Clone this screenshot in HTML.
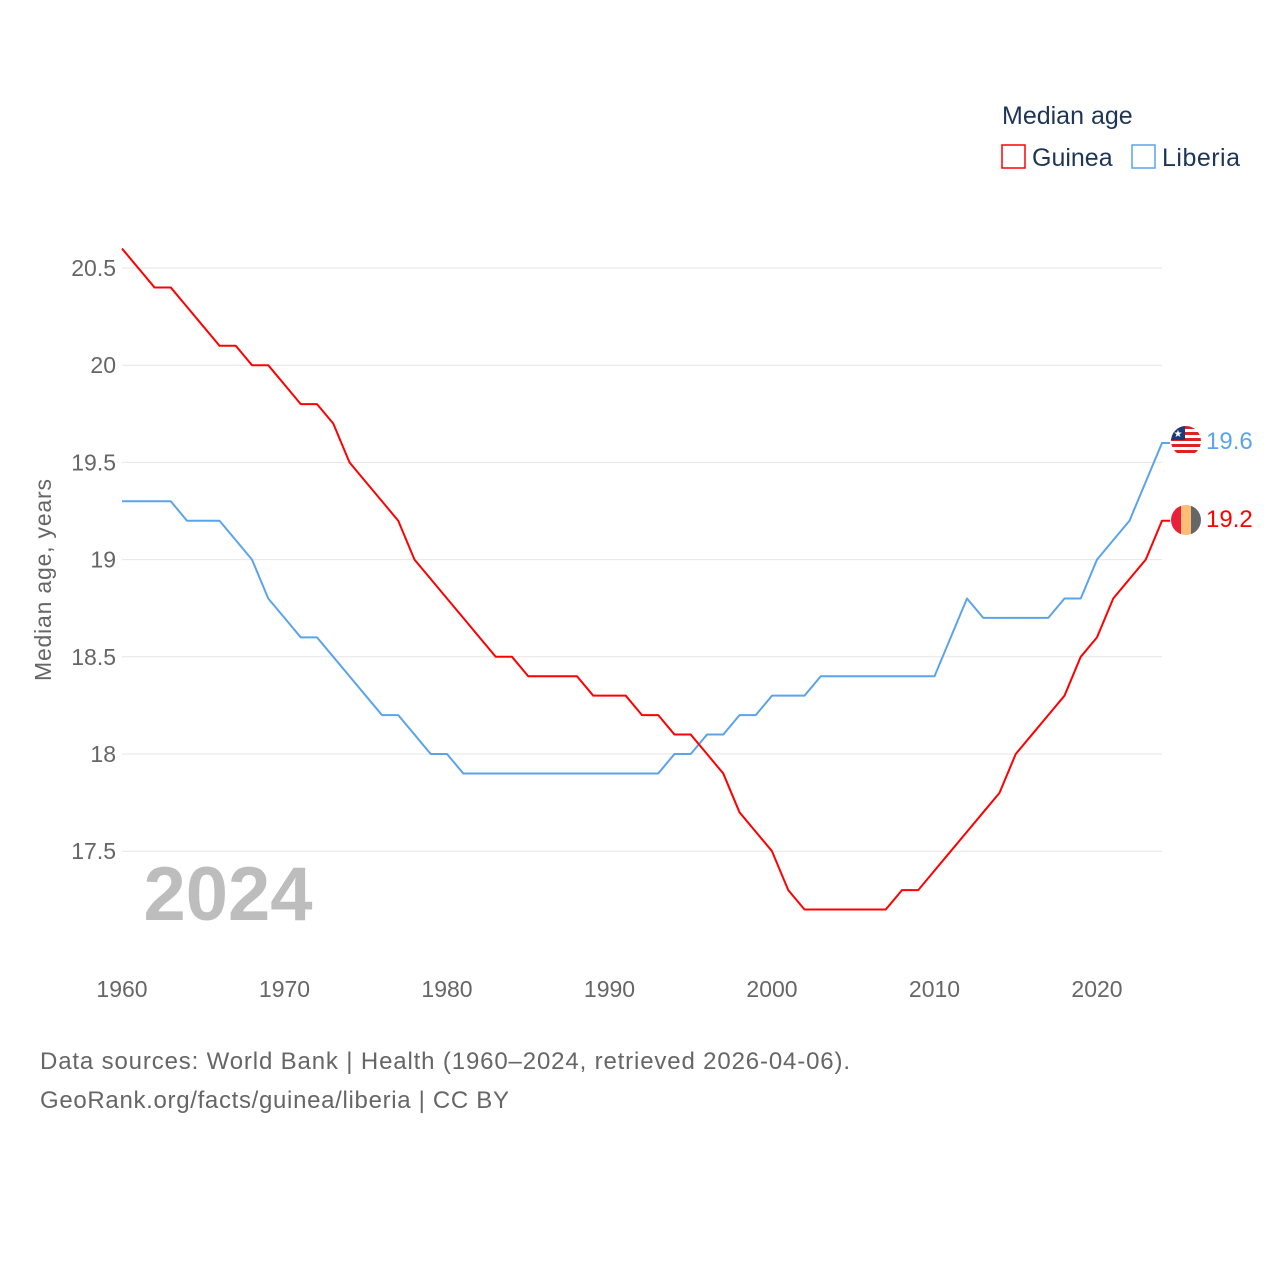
<!DOCTYPE html>
<html><head><meta charset="utf-8">
<style>
body{margin:0;background:#fff;font-family:"Liberation Sans",sans-serif;}
svg{display:block}
</style></head>
<body>
<svg id="chart" width="1280" height="1280" viewBox="0 0 1280 1280">
<rect width="1280" height="1280" fill="#fff"/>
<g id="grid"></g>
<g id="yticks"></g>
<g id="xticks"></g>
<text x="228" y="920" text-anchor="middle" font-size="76" font-weight="bold" fill="#bdbdbd">2024</text>
<text transform="translate(51,580) rotate(-90)" text-anchor="middle" font-size="23" fill="#666" textLength="202">Median age, years</text>
<g id="series"></g>
<g>
<text x="1002" y="124" font-size="25" fill="#1d3557">Median age</text>
<g><rect x="1002" y="145" width="23" height="23" fill="none" stroke="#f00" stroke-width="1.5"/><text x="1032" y="166" font-size="25" fill="#1d3557">Guinea</text></g>
<g><rect x="1132" y="145" width="23" height="23" fill="none" stroke="#5ba4ec" stroke-width="1.5"/><text x="1162" y="166" font-size="25" fill="#1d3557" textLength="78">Liberia</text></g>
</g>
<defs>
<clipPath id="c1"><circle cx="1186" cy="441" r="15"/></clipPath>
<clipPath id="c2"><circle cx="1186" cy="520" r="15"/></clipPath>
</defs>
<g clip-path="url(#c1)">
<rect x="1171" y="426" width="30" height="30" fill="#fff"/>
<rect x="1171" y="426" width="30" height="3" fill="#d22"/><rect x="1171" y="432" width="30" height="3" fill="#d22"/><rect x="1171" y="438" width="30" height="3" fill="#d22"/><rect x="1171" y="444" width="30" height="3" fill="#d22"/><rect x="1171" y="450" width="30" height="3" fill="#d22"/>
<rect x="1171" y="426" width="14" height="14" fill="#1a3a7a"/><text x="1178" y="437" font-size="10" fill="#fff" text-anchor="middle">★</text>
</g>
<g clip-path="url(#c2)">
<rect x="1171" y="505" width="10" height="30" fill="#e8203a"/><rect x="1181" y="505" width="10" height="30" fill="#fcbe77"/><rect x="1191" y="505" width="10" height="30" fill="#666"/>
</g>
<text x="1206" y="449" font-size="24" fill="#5ba4ec">19.6</text>
<text x="1206" y="527" font-size="24" fill="#f00">19.2</text>
<text x="40" y="1069" font-size="24" fill="#666" textLength="810">Data sources: World Bank | Health (1960–2024, retrieved 2026-04-06).</text>
<text x="40" y="1108" font-size="24" fill="#666" textLength="469">GeoRank.org/facts/guinea/liberia | CC BY</text>
</svg>
<script>
const years=[];for(let y=1960;y<=2024;y++)years.push(y);
const guinea=[20.6,20.5,20.4,20.4,20.3,20.2,20.1,20.1,20.0,20.0,19.9,19.8,19.8,19.7,19.5,19.4,19.3,19.2,19.0,18.9,18.8,18.7,18.6,18.5,18.5,18.4,18.4,18.4,18.4,18.3,18.3,18.3,18.2,18.2,18.1,18.1,18.0,17.9,17.7,17.6,17.5,17.3,17.2,17.2,17.2,17.2,17.2,17.2,17.3,17.3,17.4,17.5,17.6,17.7,17.8,18.0,18.1,18.2,18.3,18.5,18.6,18.8,18.9,19.0,19.2];
const liberia=[19.3,19.3,19.3,19.3,19.2,19.2,19.2,19.1,19.0,18.8,18.7,18.6,18.6,18.5,18.4,18.3,18.2,18.2,18.1,18.0,18.0,17.9,17.9,17.9,17.9,17.9,17.9,17.9,17.9,17.9,17.9,17.9,17.9,17.9,18.0,18.0,18.1,18.1,18.2,18.2,18.3,18.3,18.3,18.4,18.4,18.4,18.4,18.4,18.4,18.4,18.4,18.6,18.8,18.7,18.7,18.7,18.7,18.7,18.8,18.8,19.0,19.1,19.2,19.4,19.6];
const yTicks=[17.5,18,18.5,19,19.5,20,20.5];
const yTickLabels=["17.5","18","18.5","19","19.5","20","20.5"];
const xTicks=[1960,1970,1980,1990,2000,2010,2020];
const NS="http://www.w3.org/2000/svg";
const X=y=>122+(y-1960)*16.25;
const Y=v=>754-(v-18)*194.4;
const grid=document.getElementById('grid'),yt=document.getElementById('yticks'),xt=document.getElementById('xticks'),ser=document.getElementById('series');
yTicks.forEach((v,i)=>{
 const l=document.createElementNS(NS,'line');
 l.setAttribute('x1',122);l.setAttribute('x2',1162);l.setAttribute('y1',Y(v));l.setAttribute('y2',Y(v));
 l.setAttribute('stroke','#e6e6e6');
 
 
 grid.appendChild(l);
 const t=document.createElementNS(NS,'text');
 t.setAttribute('x',116);t.setAttribute('y',Y(v)+8);t.setAttribute('text-anchor','end');
 t.setAttribute('font-size','23');t.setAttribute('fill','#666');t.textContent=yTickLabels[i];
 
 
 yt.appendChild(t);
});
xTicks.forEach(v=>{
 const t=document.createElementNS(NS,'text');
 t.setAttribute('x',X(v));t.setAttribute('y',997);t.setAttribute('text-anchor','middle');
 t.setAttribute('font-size','23');t.setAttribute('fill','#666');t.textContent=v;
 
 
 xt.appendChild(t);
});
function line(data,color,name){
 const p=document.createElementNS(NS,'polyline');
 let pts=data.map((v,i)=>X(years[i])+','+Y(v));
 pts.push((X(years[years.length-1])+8)+','+Y(data[data.length-1]));
 p.setAttribute('points',pts.join(' '));
 p.setAttribute('fill','none');p.setAttribute('stroke',color);p.setAttribute('stroke-width','2');
 p.setAttribute('stroke-linejoin','round');
 
 
 ser.appendChild(p);
}
line(liberia,'#5ba4ec','liberia-line');
line(guinea,'#ff0000','guinea-line');
</script>
</body></html>
